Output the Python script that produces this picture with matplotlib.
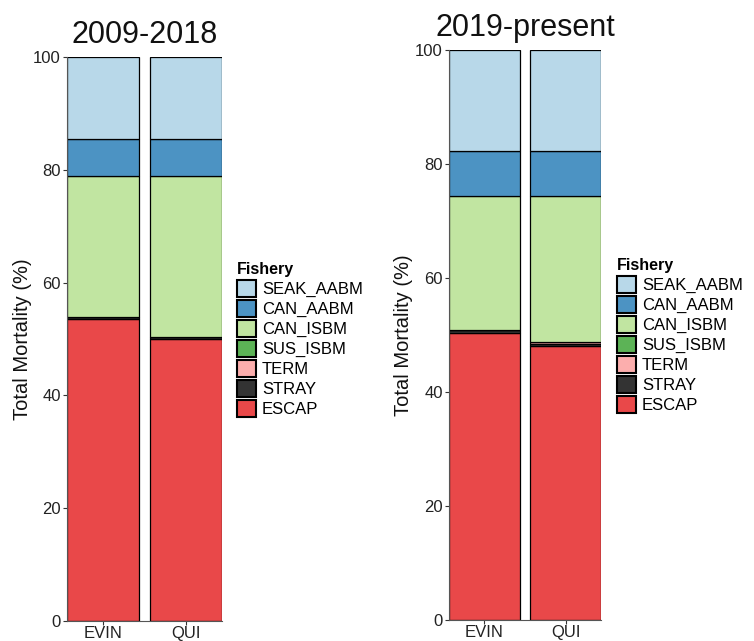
import matplotlib
matplotlib.use("Agg")
import matplotlib.pyplot as plt
from matplotlib.patches import Patch
import numpy as np

plt.rcParams['font.family'] = ['Liberation Sans', 'DejaVu Sans']

# Stock groups and fishery categories (stacking order, bottom to top)
stocks = ["EVIN", "QUI"]
fisheries = ["ESCAP", "STRAY", "TERM", "SUS_ISBM", "CAN_ISBM", "CAN_AABM", "SEAK_AABM"]

# Percent of total mortality by fishery, period 2009-2018
early = {
    "ESCAP":     [53.6, 50.0],
    "STRAY":     [0.3, 0.3],
    "TERM":      [0.0, 0.0],
    "SUS_ISBM":  [0.0, 0.0],
    "CAN_ISBM":  [25.0, 28.6],
    "CAN_AABM":  [6.6, 6.6],
    "SEAK_AABM": [14.5, 14.5],
}

# Percent of total mortality by fishery, period 2019-present
late = {
    "ESCAP":     [50.4, 48.0],
    "STRAY":     [0.5, 0.4],
    "TERM":      [0.0, 0.3],
    "SUS_ISBM":  [0.0, 0.0],
    "CAN_ISBM":  [23.5, 25.7],
    "CAN_AABM":  [7.9, 7.9],
    "SEAK_AABM": [17.7, 17.7],
}

titles = ["2009-2018", "2019-present"]
yticks = [0, 20, 40, 60, 80, 100]

# Paired palette at 80% opacity over white
colors = {
    "SEAK_AABM": "#b8d8e9",
    "CAN_AABM":  "#4c93c3",
    "CAN_ISBM":  "#c1e5a1",
    "SUS_ISBM":  "#5cb356",
    "TERM":      "#fcaead",
    "STRAY":     "#333333",
    "ESCAP":     "#e94849",
}

W, H = 754, 641
fig = plt.figure(figsize=(W / 100, H / 100), dpi=100)

def px_axes(x0, x1, ytop, ybot):
    return fig.add_axes([x0 / W, 1 - ybot / H, (x1 - x0) / W, (ybot - ytop) / H])

panels = [
    (px_axes(67, 222, 57, 621), early, 237, 262, 32),
    (px_axes(449, 601, 50, 620), late, 617, 258, 413),
]

width = 0.87
for i, (ax, data, lx, ly, ylab_x) in enumerate(panels):
    x = np.arange(len(stocks))
    bottom = np.zeros(len(stocks))
    for f in fisheries:
        vals = np.array(data[f])
        ax.bar(x, vals, width=width, bottom=bottom, color=colors[f],
               edgecolor="black", linewidth=0.9)
        bottom += vals
    ax.set_xlim(-width / 2, len(stocks) - 1 + width / 2)
    ax.set_ylim(0, 100)
    ax.set_yticks(yticks)
    ax.set_xticks(x)
    ax.set_xticklabels(stocks)
    ax.tick_params(axis="both", labelsize=12, colors="#333333", length=3,
                   width=0.8, labelcolor="#222222", pad=1.5)
    ax.tick_params(axis="x", pad=0.5)
    for s in ["top", "right"]:
        ax.spines[s].set_visible(False)
    for s in ["left", "bottom"]:
        ax.spines[s].set_color("#555555")
        ax.spines[s].set_linewidth(0.8)
    ax.set_ylabel("Total Mortality (%)", fontsize=14.5, color="#111111")
    pos = ax.get_position()
    ax.yaxis.set_label_coords((ylab_x - pos.x0 * W) / (pos.width * W), 0.5)
    ax.set_title(titles[i], fontsize=22, pad=10, color="#111111")

    handles = [Patch(facecolor=colors[f], edgecolor="black", linewidth=1.5, label=f)
               for f in fisheries[::-1]]
    fig.legend(handles=handles, title="Fishery", loc="upper left",
               bbox_to_anchor=(lx / W, 1 - ly / H), frameon=False,
               fontsize=12, title_fontproperties={"weight": "bold", "size": 11.5},
               handlelength=1.15, handleheight=1.15, labelspacing=0.18,
               handletextpad=0.35, borderpad=0, borderaxespad=0,
               alignment="left")

fig.savefig("out.png", dpi=100)
